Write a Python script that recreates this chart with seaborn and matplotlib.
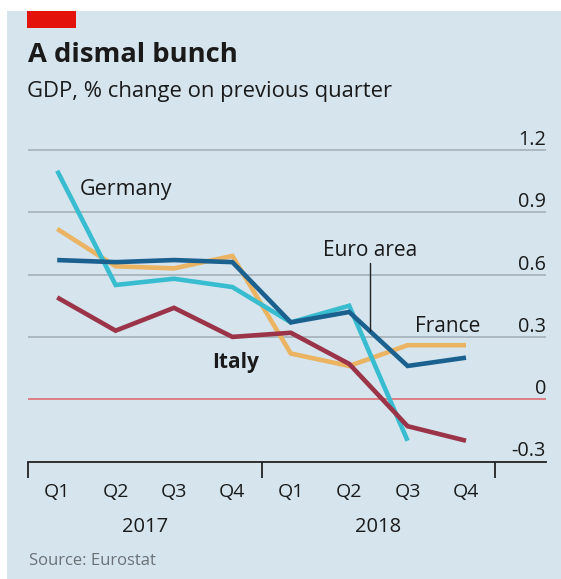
import numpy as np
import pandas as pd
import matplotlib
matplotlib.use("Agg")
import matplotlib.pyplot as plt
import matplotlib.transforms as mtransforms
from matplotlib.patches import Rectangle
import seaborn as sns

# Quarterly GDP growth, % change on previous quarter
quarters = ["Q1", "Q2", "Q3", "Q4", "Q1", "Q2", "Q3", "Q4"]
years = ["2017", "2018"]
germany = [1.10, 0.55, 0.58, 0.54, 0.37, 0.45, -0.20, np.nan]
france = [0.82, 0.64, 0.63, 0.69, 0.22, 0.16, 0.26, 0.26]
euro_area = [0.67, 0.66, 0.67, 0.66, 0.37, 0.42, 0.16, 0.20]
italy = [0.49, 0.33, 0.44, 0.30, 0.32, 0.17, -0.13, -0.20]
y_ticks = [-0.3, 0, 0.3, 0.6, 0.9, 1.2]
y_tick_labels = ["-0.3", "0", "0.3", "0.6", "0.9", "1.2"]

series = {"France": france, "Germany": germany, "Italy": italy, "Euro area": euro_area}
colors = {"France": "#ebb462", "Germany": "#38bdd0", "Italy": "#9b3448", "Euro area": "#1b6190"}

rows = []
for name, vals in series.items():
    for i, v in enumerate(vals):
        if not np.isnan(v):
            rows.append({"idx": i, "value": v, "country": name})
df = pd.DataFrame(rows)

sns.set_theme(style="white")
plt.rcParams["font.family"] = ["Open Sans", "DejaVu Sans"]

W, H = 561, 579
BG = "#d5e4ed"
TXT = "#1a1a1a"

fig = plt.figure(figsize=(W / 100, H / 100), dpi=100, facecolor="white")


def fx(px):
    return px / W


def fy(py):
    return 1 - py / H


# background panel and red tag
fig.patches.append(Rectangle((fx(7), 0), 1 - fx(7), fy(11), transform=fig.transFigure,
                             facecolor=BG, edgecolor="none", zorder=-10))
fig.patches.append(Rectangle((fx(27), fy(28)), fx(76) - fx(27), fy(11) - fy(28),
                             transform=fig.transFigure, facecolor="#e3120b",
                             edgecolor="none", zorder=-5))

fig.text(fx(28), fy(62), "A dismal bunch", fontsize=19.7, fontweight="bold",
         color=TXT, va="baseline", ha="left")
fig.text(fx(27), fy(97), "GDP, % change on previous quarter", fontsize=15.8,
         color=TXT, va="baseline", ha="left")
fig.text(fx(29), fy(565), "Source: Eurostat", fontsize=12, color="#6b7177",
         va="baseline", ha="left")

y_lo, y_hi = -0.3, 1.25
px_per_unit = (461.5 - 150) / 1.5
top_px = 150 - (y_hi - 1.2) * px_per_unit
ax = fig.add_axes([fx(28), fy(461.5), fx(546) - fx(28), (461.5 - top_px) / H])
ax.set_facecolor("none")

sns.lineplot(data=df, x="idx", y="value", hue="country", hue_order=list(series.keys()),
             palette=colors, linewidth=3.3, legend=False, ax=ax, zorder=3,
             solid_capstyle="butt", solid_joinstyle="miter")

ax.set_xlim(-0.5, 8.37)
ax.set_ylim(y_lo, y_hi)

# horizontal guides
for t in y_ticks:
    if t == -0.3:
        continue
    if t == 0:
        ax.axhline(t, color="#e0646b", linewidth=1.1, zorder=1)
    else:
        ax.axhline(t, color="#a9b5bd", linewidth=1.3, zorder=1)

# right-hand value labels, sitting above their guide lines
lab_tr = mtransforms.blended_transform_factory(ax.transAxes, ax.transData) + \
    mtransforms.ScaledTranslation(0, 5 / 100, fig.dpi_scale_trans)
for t, s in zip(y_ticks, y_tick_labels):
    ax.text(1.0, t, s, transform=lab_tr, ha="right", va="baseline",
            fontsize=14.3, color=TXT)
ax.set_yticks([])

for side in ["left", "right", "top"]:
    ax.spines[side].set_visible(False)
ax.spines["bottom"].set_color("#222222")
ax.spines["bottom"].set_linewidth(1.3)

# quarter labels and tick marks between quarters
ax.set_xticks(range(len(quarters)))
ax.set_xticklabels(quarters, fontsize=14, color=TXT)
ax.tick_params(axis="x", which="major", length=0, pad=15.5)
ax.set_xticks(np.arange(-0.5, len(quarters), 1.0), minor=True)
ax.tick_params(axis="x", which="minor", length=7.5, width=1.3, color="#222222",
               direction="out")
ax.set_xlabel("")
ax.set_ylabel("")

# longer marks at year boundaries
xb = mtransforms.blended_transform_factory(ax.transData, ax.transAxes)
axes_h_px = 461.5 - top_px
for b in [-0.5, 3.5, 7.5]:
    ax.plot([b, b], [0, -16 / axes_h_px], transform=xb, color="#222222",
            linewidth=1.3, clip_on=False, solid_capstyle="butt")

for k, yr in enumerate(years):
    ax.text(1.5 + 4 * k, -(532 - 461.5) / axes_h_px, yr, transform=xb,
            ha="center", va="baseline", fontsize=14.5, color=TXT)

# series labels
ax.text(0.39, 0.985, "Germany", fontsize=15.5, color=TXT, ha="left", va="baseline")
ax.text(4.55, 0.69, "Euro area", fontsize=15, color=TXT, ha="left", va="baseline")
ax.text(6.13, 0.325, "France", fontsize=15, color=TXT, ha="left", va="baseline")
ax.text(2.66, 0.151, "Italy", fontsize=15, fontweight="bold", color=TXT,
        ha="left", va="baseline")

# leader from the Euro area label down to its line
lead_x = 5.36
lead_y = float(np.interp(lead_x, range(len(euro_area)), euro_area))
ax.plot([lead_x, lead_x], [0.655, lead_y], color="#222222", linewidth=1.0, zorder=5)

fig.savefig("out.png", dpi=100, facecolor="white")
